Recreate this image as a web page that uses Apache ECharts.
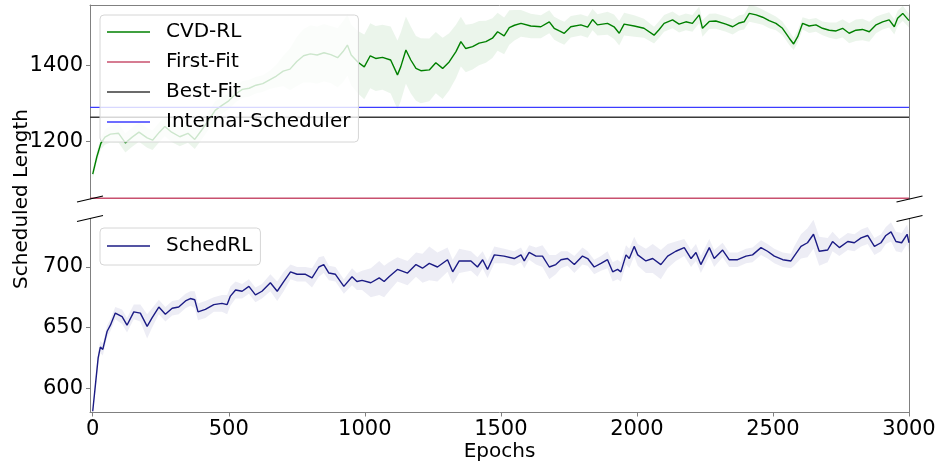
<!DOCTYPE html>
<html>
<head>
<meta charset="utf-8">
<title>Scheduled Length</title>
<script src="https://cdn.jsdelivr.net/npm/echarts@6/dist/echarts.min.js"></script>
<style>
  html, body { margin: 0; padding: 0; background: #fff; }
  #chart { width: 940px; height: 465px; }
</style>
</head>
<body>
<div id="chart"></div>
<script>
// [epoch, mean, half width of the shaded band]
const cvdRows = [
  [0, 1115, 12], [15, 1160, 14], [30, 1196, 16], [45, 1212, 20], [65, 1220, 22], [95, 1222, 25],
  [120, 1197, 25], [145, 1212, 25], [170, 1225, 25], [200, 1210, 26], [220, 1204, 26], [245, 1225, 26],
  [265, 1240, 26], [290, 1225, 26], [320, 1213, 25], [350, 1222, 25], [375, 1206, 25], [400, 1230, 25],
  [425, 1255, 24], [450, 1282, 24], [475, 1295, 22], [500, 1307, 22], [525, 1325, 22], [550, 1337, 22],
  [575, 1340, 22], [600, 1348, 22], [625, 1352, 22], [650, 1362, 24], [675, 1372, 30], [700, 1385, 40],
  [725, 1390, 55], [750, 1410, 65], [775, 1425, 70], [800, 1430, 75], [825, 1427, 75], [850, 1433, 75],
  [875, 1428, 75], [900, 1420, 78], [920, 1436, 80], [936, 1453, 80], [950, 1427, 80], [975, 1408, 82],
  [998, 1396, 85], [1020, 1425, 85], [1040, 1418, 85], [1065, 1421, 85], [1095, 1414, 88], [1120, 1375, 90],
  [1132, 1396, 90], [1151, 1440, 88], [1169, 1414, 88], [1188, 1392, 85], [1206, 1386, 85], [1237, 1388, 82],
  [1261, 1407, 80], [1286, 1392, 80], [1310, 1409, 75], [1335, 1436, 70], [1353, 1462, 65], [1371, 1444, 62],
  [1396, 1449, 60], [1420, 1458, 58], [1445, 1462, 55], [1469, 1471, 52], [1488, 1488, 50], [1512, 1477, 48],
  [1531, 1499, 45], [1550, 1505, 40], [1574, 1510, 35], [1610, 1503, 32], [1647, 1501, 30], [1678, 1514, 30],
  [1696, 1497, 30], [1715, 1490, 30], [1733, 1484, 30], [1757, 1501, 28], [1794, 1506, 28], [1819, 1500, 28],
  [1837, 1520, 28], [1855, 1506, 28], [1892, 1510, 30], [1916, 1501, 32], [1935, 1484, 32], [1953, 1508, 30],
  [1990, 1503, 28], [2026, 1497, 25], [2063, 1479, 22], [2082, 1494, 22], [2100, 1510, 22], [2131, 1519, 22],
  [2155, 1508, 22], [2180, 1514, 22], [2204, 1510, 22], [2229, 1532, 22], [2241, 1497, 22], [2266, 1515, 20],
  [2290, 1516, 20], [2327, 1508, 20], [2352, 1501, 20], [2376, 1511, 20], [2394, 1514, 20], [2413, 1536, 22],
  [2438, 1532, 22], [2462, 1526, 20], [2486, 1517, 20], [2511, 1510, 18], [2535, 1497, 18], [2560, 1471, 18],
  [2576, 1456, 16], [2591, 1475, 16], [2609, 1510, 16], [2633, 1503, 18], [2658, 1506, 18], [2682, 1497, 18],
  [2707, 1492, 20], [2732, 1490, 22], [2756, 1497, 24], [2780, 1484, 26], [2805, 1492, 28], [2829, 1494, 28],
  [2854, 1488, 26], [2879, 1506, 22], [2903, 1514, 20], [2927, 1519, 20], [2946, 1501, 20], [2958, 1523, 20],
  [2977, 1536, 20], [3000, 1517, 18]
]

const schedRows = [
  [0, 581, 2], [10, 603, 4], [20, 625, 5], [28, 634, 5], [37, 632, 5], [53, 647, 5], [65, 652, 5],
  [83, 662, 5], [108, 659, 6], [126, 652, 6], [151, 663, 6], [175, 662, 7], [200, 651, 10], [218, 658, 8],
  [243, 667, 6], [267, 661, 6], [292, 666, 6], [316, 667, 6], [341, 672, 6], [359, 674, 6], [375, 673, 7],
  [387, 663, 7], [414, 665, 7], [445, 669, 6], [475, 670, 7], [494, 669, 8], [506, 676, 8], [525, 681, 7],
  [549, 680, 6], [574, 684, 6], [598, 677, 6], [622, 680, 6], [653, 687, 7], [678, 680, 8], [702, 688, 8],
  [727, 696, 6], [751, 694, 6], [782, 694, 6], [806, 691, 8], [831, 700, 8], [849, 702, 7], [868, 695, 6],
  [892, 694, 6], [923, 684, 6], [953, 692, 7], [971, 688, 7], [990, 689, 8], [1022, 687, 12], [1053, 691, 14],
  [1071, 688, 13], [1089, 692, 12], [1120, 698, 10], [1157, 695, 10], [1188, 702, 10], [1212, 699, 12],
  [1237, 703, 14], [1267, 700, 12], [1304, 706, 10], [1323, 696, 10], [1347, 705, 10], [1390, 705, 8],
  [1414, 700, 8], [1433, 706, 7], [1451, 698, 7], [1476, 710, 7], [1512, 709, 6], [1549, 707, 6],
  [1574, 710, 6], [1586, 705, 6], [1604, 712, 6], [1629, 709, 7], [1653, 709, 9], [1678, 700, 10],
  [1702, 702, 8], [1721, 706, 7], [1745, 707, 6], [1770, 702, 7], [1800, 709, 7], [1819, 707, 6],
  [1843, 700, 6], [1868, 703, 6], [1892, 706, 7], [1911, 696, 8], [1929, 698, 8], [1941, 696, 8],
  [1960, 710, 8], [1972, 707, 8], [1990, 717, 8], [2003, 710, 9], [2033, 705, 10], [2058, 707, 12],
  [2088, 702, 12], [2113, 709, 10], [2143, 713, 8], [2174, 716, 7], [2199, 707, 7], [2217, 712, 7],
  [2235, 702, 7], [2266, 716, 7], [2284, 707, 7], [2315, 714, 6], [2339, 706, 6], [2370, 706, 6],
  [2401, 709, 6], [2425, 710, 6], [2456, 716, 6], [2480, 713, 6], [2505, 709, 6], [2536, 706, 6],
  [2566, 705, 6], [2578, 709, 8], [2603, 717, 10], [2627, 720, 12], [2649, 727, 12], [2670, 713, 12],
  [2701, 714, 10], [2719, 721, 8], [2744, 716, 7], [2775, 721, 7], [2799, 720, 7], [2824, 724, 7],
  [2848, 726, 7], [2873, 717, 7], [2897, 720, 7], [2915, 726, 7], [2934, 729, 8], [2952, 721, 8],
  [2973, 720, 8], [2993, 727, 8], [3000, 720, 8]
]

// flat baselines
const firstFit = 1052
const bestFit = 1264
const internalScheduler = 1290

const epochTicks = [0, 500, 1000, 1500, 2000, 2500, 3000]
const topTicks = [1200, 1400]
const bottomTicks = [600, 650, 700]
const xRange = [-10, 3000]

const font = 'DejaVu Sans'
const spine = '#808080'

function flat (v) {
  return [[xRange[0], v], [xRange[1], v]]
}

function plain (v) {
  return String(v)
}

function lineSeries (name, data, color, yi) {
  return {
    name: name,
    type: 'line',
    xAxisIndex: yi < 2 ? 0 : 1,
    yAxisIndex: yi,
    data: data,
    symbol: 'none',
    clip: true,
    z: 3,
    lineStyle: { color: color, width: 1.4 },
    itemStyle: { color: color }
  }
}

// shaded band as one polygon, through the axis scales
function bandSeries (rows, yi, color) {
  return {
    type: 'custom',
    xAxisIndex: yi < 2 ? 0 : 1,
    yAxisIndex: yi,
    clip: true,
    silent: true,
    z: 1,
    data: rows.map(r => [r[0], r[1] - r[2], r[1] + r[2]]),
    encode: { x: 0, y: [1, 2] },
    renderItem: function (params, api) {
      if (params.dataIndex !== 0) return null
      let upper = rows.map(r => api.coord([r[0], r[1] + r[2]]))
      let lower = rows.map(r => api.coord([r[0], r[1] - r[2]])).reverse()
      return {
        type: 'polygon',
        shape: { points: upper.concat(lower) },
        style: { fill: color }
      }
    }
  }
}

function yAxis (grid, min, max, side, ticks) {
  let axis = {
    type: 'value',
    gridIndex: grid,
    min: min,
    max: max,
    position: side,
    axisLine: { show: true, onZero: false, lineStyle: { color: spine, width: 1 } },
    splitLine: { show: false },
    axisTick: { show: false },
    axisLabel: { show: false }
  }
  if (ticks) {
    axis.axisTick = { show: true, length: 4, customValues: ticks, lineStyle: { color: spine } }
    axis.axisLabel = { show: true, customValues: ticks, formatter: plain, fontSize: 21, fontFamily: font, color: '#000', margin: 7 }
  }
  return axis
}

function breakMark (cx, cy) {
  return {
    type: 'line',
    shape: { x1: cx - 13, y1: cy + 3, x2: cx + 13, y2: cy - 3 },
    style: { stroke: '#000', lineWidth: 1.2 },
    z: 100
  }
}

const legendBase = {
  orient: 'vertical',
  left: 100,
  icon: 'rect',
  itemWidth: 43,
  itemHeight: 1.5,
  itemGap: 10,
  backgroundColor: 'rgba(255,255,255,0.8)',
  borderColor: '#d6d6d6',
  borderWidth: 1,
  borderRadius: 4,
  selectedMode: false,
  textStyle: { fontSize: 20, fontFamily: font, color: '#000', lineHeight: 20, padding: [0, 0, 0, 11] }
}

let myChart = echarts.init(document.getElementById('chart'))
let option = {
  animation: false,
  backgroundColor: '#fff',
  grid: [
    { left: 90, right: 31, top: 5, height: 194 },
    { left: 90, right: 31, top: 218.5, height: 194 }
  ],
  xAxis: [
    {
      type: 'value',
      gridIndex: 0,
      min: xRange[0],
      max: xRange[1],
      position: 'top',
      axisLine: { show: true, onZero: false, lineStyle: { color: spine } },
      axisTick: { show: false },
      axisLabel: { show: false },
      splitLine: { show: false }
    },
    {
      type: 'value',
      gridIndex: 1,
      min: xRange[0],
      max: xRange[1],
      position: 'bottom',
      axisLine: { show: true, onZero: false, lineStyle: { color: spine } },
      axisTick: { show: true, length: 4, customValues: epochTicks, lineStyle: { color: spine } },
      axisLabel: { customValues: epochTicks, formatter: plain, fontSize: 21, fontFamily: font, color: '#000', margin: 7 },
      splitLine: { show: false },
      name: 'Epochs',
      nameLocation: 'middle',
      nameGap: 28,
      nameTextStyle: { fontSize: 20, fontFamily: font, color: '#000' }
    }
  ],
  yAxis: [
    yAxis(0, 1050, 1558, 'left', topTicks),
    yAxis(0, 1050, 1558, 'right'),
    yAxis(1, 580, 740, 'left', bottomTicks),
    yAxis(1, 580, 740, 'right')
  ],
  legend: [
    Object.assign({}, legendBase, {
      top: 15,
      padding: [7, 8, 10, 7],
      data: ['CVD-RL', 'First-Fit', 'Best-Fit', 'Internal-Scheduler']
    }),
    Object.assign({}, legendBase, {
      top: 228,
      padding: [8, 8, 9, 7],
      data: ['SchedRL']
    })
  ],
  graphic: [
    {
      type: 'text',
      x: 22,
      y: 199,
      rotation: Math.PI / 2,
      style: {
        text: 'Scheduled Length',
        fontSize: 20,
        fontFamily: font,
        fill: '#000',
        align: 'center',
        verticalAlign: 'middle'
      }
    },
    breakMark(90, 199),
    breakMark(90, 218.5),
    breakMark(909.5, 199),
    breakMark(909.5, 218.5)
  ],
  series: [
    bandSeries(cvdRows, 0, 'rgba(0,128,0,0.08)'),
    lineSeries('CVD-RL', cvdRows.map(r => [r[0], r[1]]), '#008000', 0),
    lineSeries('First-Fit', flat(firstFit), '#c8506e', 0),
    lineSeries('Best-Fit', flat(bestFit), '#3a3a3a', 0),
    lineSeries('Internal-Scheduler', flat(internalScheduler), '#3c3cff', 0),
    bandSeries(schedRows, 2, 'rgba(25,25,128,0.08)'),
    lineSeries('SchedRL', schedRows.map(r => [r[0], r[1]]), '#1b1b85', 2)
  ]
}
myChart.setOption(option)
</script>
</body>
</html>
